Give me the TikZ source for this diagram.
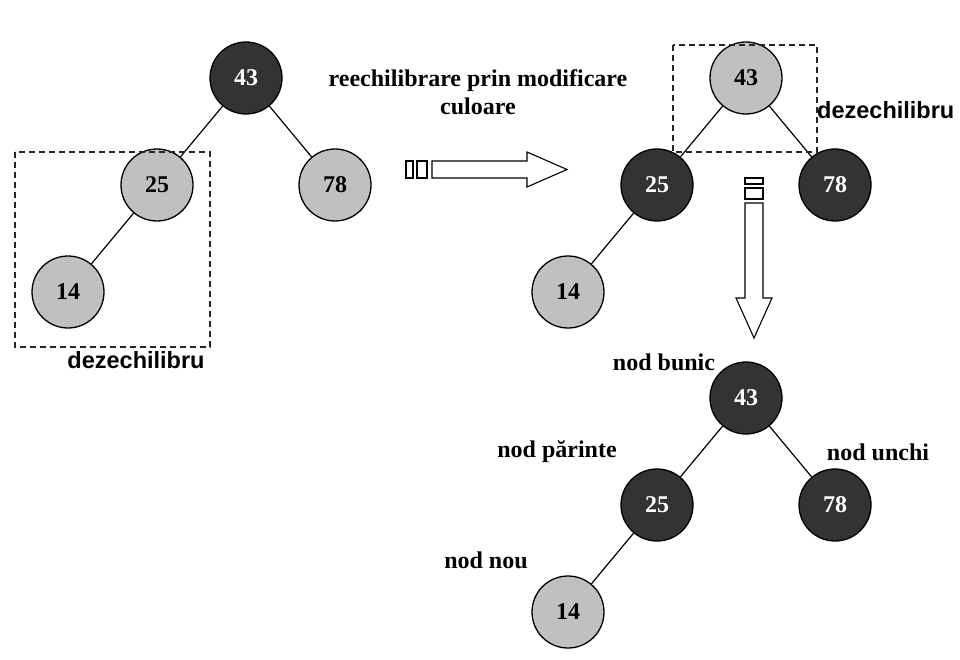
\documentclass[tikz,border=0pt]{standalone}
\usepackage{xcolor}
\usepackage{fontspec}
\setmainfont{Liberation Serif}
\newfontfamily\etsans{Liberation Sans}
\usepackage{tikz}
\usetikzlibrary{positioning}

\definecolor{nodnegru}{HTML}{333333}
\definecolor{nodgri}{HTML}{C0C0C0}

\tikzset{
	nod/.style={circle, draw=black, line width=1.3pt, minimum size=72pt, inner sep=0pt, font=\fontsize{24}{28}\selectfont\bfseries},
	negru/.style={nod, fill=nodnegru, text=white},
	gri/.style={nod, fill=nodgri, text=black},
	muchie/.style={draw=black, line width=1.2pt},
	eticheta/.style={font=\fontsize{24}{28}\selectfont\bfseries, inner sep=0pt},
	dezech/.style={font=\etsans\fontsize{23.5}{26}\selectfont\bfseries, inner sep=0pt},
	cadru/.style={draw=black!85, dash pattern=on 6pt off 4pt, line width=1.3pt},
	sageata/.style={draw=black, line width=1.1pt, fill=white}
}

\begin{document}
\begin{tikzpicture}[x=1pt, y=-1pt, node distance=107pt and 89pt, on grid]
	\useasboundingbox (0,0) rectangle (960,660);

	\node[negru] (a43) at (246,78) {43};
	\node[gri] (a25) [below left=of a43] {25};
	\node[gri] (a78) [below right=of a43] {78};
	\node[gri] (a14) [below left=of a25] {14};
	\draw[muchie] (a43) -- (a25);
	\draw[muchie] (a43) -- (a78);
	\draw[muchie] (a25) -- (a14);
	\draw[cadru] (15,152) rectangle (210,347);
	\node[dezech] (dez1) at (136,360) {dezechilibru};

	\node[eticheta, align=center] (reech) at (478,92) {reechilibrare prin modificare\\culoare};
	\draw[sageata] (406,161) rectangle (413,178);
	\draw[sageata] (417,161) rectangle (427,178);
	\draw[sageata] (432,161) -- (527,161) -- (527,152) -- (567,169.5) -- (527,187) -- (527,178) -- (432,178) -- cycle;

	\node[gri] (b43) at (746,78) {43};
	\node[negru] (b25) [below left=of b43] {25};
	\node[negru] (b78) [below right=of b43] {78};
	\node[gri] (b14) [below left=of b25] {14};
	\draw[muchie] (b43) -- (b25);
	\draw[muchie] (b43) -- (b78);
	\draw[muchie] (b25) -- (b14);
	\draw[cadru] (673,45) rectangle (817,152);
	\node[dezech, anchor=west] (dez2) at (817,110) {dezechilibru};

	\draw[sageata] (745,178) rectangle (763,184);
	\draw[sageata] (745,188) rectangle (763,199);
	\draw[sageata] (745,203) -- (763,203) -- (763,298) -- (772,298) -- (754,338) -- (736,298) -- (745,298) -- cycle;

	\node[negru] (c43) at (746,398) {43};
	\node[negru] (c25) [below left=of c43] {25};
	\node[negru] (c78) [below right=of c43] {78};
	\node[gri] (c14) [below left=of c25] {14};
	\draw[muchie] (c43) -- (c25);
	\draw[muchie] (c43) -- (c78);
	\draw[muchie] (c25) -- (c14);
	\node[eticheta] (bunic) at (664,362) {nod bunic};
	\node[eticheta] (parinte) at (557,452) {nod părinte};
	\node[eticheta] (unchi) at (878,452) {nod unchi};
	\node[eticheta] (nou) at (486,560) {nod nou};
\end{tikzpicture}
\end{document}
